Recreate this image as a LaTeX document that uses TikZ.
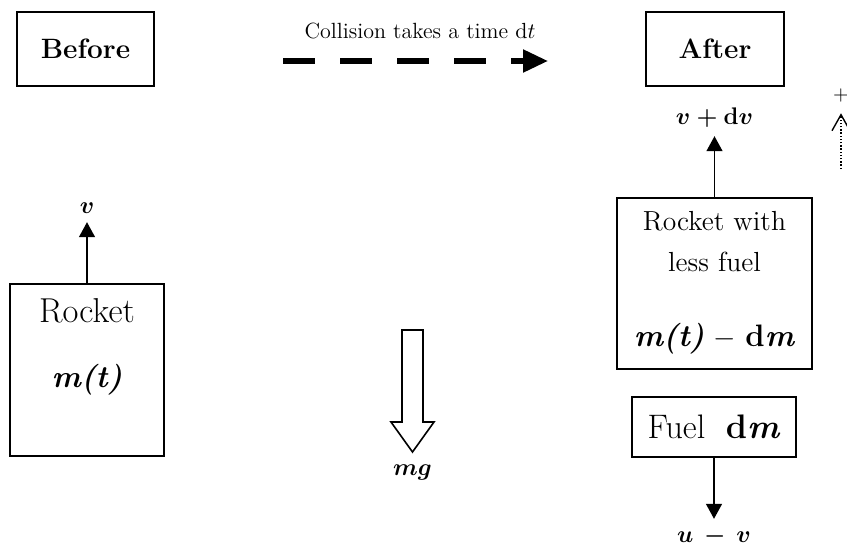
\documentclass[tikz,border=0pt]{standalone}
\usepackage{amsmath,bm}
\usetikzlibrary{positioning, arrows.meta}

\begin{document}
\begin{tikzpicture}[x=0.5pt, y=-0.5pt,
    box/.style={draw, line width=0.8pt, inner sep=0pt, align=center},
    stage/.style={box, minimum width=68.5pt, minimum height=37pt, font=\fontsize{14}{17}\selectfont\bfseries},
    txt/.style={inner sep=0pt, anchor=base},
    mass/.style={txt, font=\fontsize{15.5}{18}\selectfont},
    arr/.style={-{Triangle[length=7.5pt, width=8pt]}, line width=0.7pt},
    lbl/.style={font=\fontsize{12.5}{15}\selectfont\boldmath, inner sep=4pt},
  ]
  \useasboundingbox (0,0) rectangle (847,546);

  % before / after
  \node[stage] (before) at (85.5,49) {Before};
  \node[stage, minimum width=69pt] (after) at (715,49) {After};
  \coordinate (dstart) at (283,61);
  \coordinate (dend) at (548,61);
  \draw[line width=2.6pt, dash pattern=on 16pt off 12.5pt, -{Triangle[length=12.5pt, width=11pt]}] (dstart) -- (dend);
  \node[font=\fontsize{11}{13}\selectfont] (coll) at (420,31) {Collision takes a time $\mathrm{d}t$};

  % rocket before
  \node[box, minimum width=77pt, minimum height=86pt] (rocket) at (87,370) {};
  \node[txt, font=\fontsize{17.28}{20}\selectfont] (rname) at (87,322) {Rocket};
  \node[mass] (rmass) at (87,387) {\textbf{\textit{m(t)}}};
  \node[lbl, above=30.5pt of rocket] (v) {$v$};
  \draw[arr] (rocket) -- (v);

  % rocket after
  \node[box, minimum width=97.5pt, minimum height=85.5pt] (rocketb) at (714.5,283.5) {};
  \node[txt, font=\fontsize{13.8}{16}\selectfont] (rnamea) at (714.5,230) {Rocket with};
  \node[txt, font=\fontsize{13.8}{16}\selectfont] (rnameb) at (714.5,271.5) {less fuel};
  \node[mass] (rmassb) at (714.5,346.5) {\textbf{\textit{m(t)}} $-$ \textbf{d\textit{m}}};
  \node[lbl, above=30.5pt of rocketb] (vdv) {$v + \mathrm{d}v$};
  \draw[arr] (rocketb) -- (vdv);

  % fuel
  \node[box, minimum width=82pt, minimum height=30pt, font=\fontsize{17}{20}\selectfont] (fuel) at (714,427) {Fuel~~\textbf{d\textit{m}}};
  \node[lbl, below=30.5pt of fuel] (uv) {$u\,-\,v$};
  \draw[arr] (fuel) -- (uv);

  % gravity
  \coordinate (gtip) at (412.5,452);
  \draw[line width=0.8pt] (402,330) -- (423,330) -- (423,422) -- (434,422) -- (gtip) -- (391,422) -- (402,422) -- cycle;
  \node[lbl, below=2pt of gtip] (mg) {$mg$};

  % positive direction
  \node[font=\fontsize{10}{12}\selectfont, inner sep=0pt] (plus) at (841,95) {$+$};
  \coordinate (pbase) at (841,169);
  \draw[line width=0.7pt, dash pattern=on 0.7pt off 0.9pt, shorten >=5.6pt, -{Straight Barb[length=8pt, width=9pt]}] (pbase) -- (plus.south);
\end{tikzpicture}
\end{document}
